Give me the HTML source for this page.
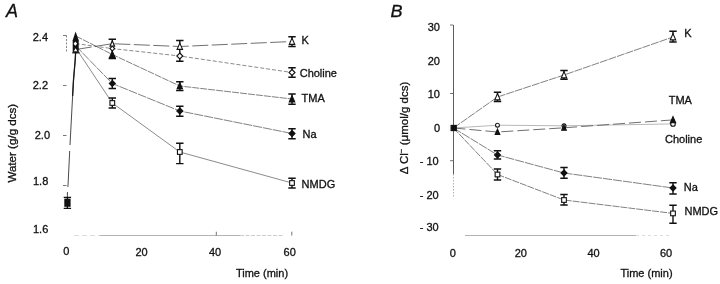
<!DOCTYPE html>
<html><head><meta charset="utf-8"><title>Figure</title>
<style>
html,body{margin:0;padding:0;background:#fff}
svg{display:block;font-family:"Liberation Sans",sans-serif;fill:#111}
text{stroke:#111;stroke-width:0.3px}
</style></head><body>
<svg width="720" height="284" viewBox="0 0 720 284">
<rect width="720" height="284" fill="#fff"/>
<path d="M66.5 35.5L66.5 52" fill="none" stroke="#666" stroke-width="0.8" stroke-dasharray="2 1.5"/>
<path d="M100 235.5L240 235.5" fill="none" stroke="#b4b4b4" stroke-width="1"/>
<path d="M240 235.5L283 235.5" fill="none" stroke="#ccc" stroke-width="1" stroke-dasharray="4 1.5"/>
<path d="M74 235.5L100 235.5" fill="none" stroke="#ddd" stroke-width="1" stroke-dasharray="5 3"/>
<path d="M63 35.5L66.5 35.5" fill="none" stroke="#666" stroke-width="0.9"/>
<path d="M63 85.5L66.5 85.5" fill="none" stroke="#666" stroke-width="0.9"/>
<path d="M63 135.5L66.5 135.5" fill="none" stroke="#666" stroke-width="0.9"/>
<path d="M63 185.5L66.5 185.5" fill="none" stroke="#666" stroke-width="0.9"/>
<path d="M216.3 231.7L216.3 235.5" fill="none" stroke="#666" stroke-width="0.9"/>
<path d="M291.8 231.7L291.8 235.5" fill="none" stroke="#666" stroke-width="0.9"/>
<text x="48" y="40.6" text-anchor="end" font-size="11">2.4</text>
<text x="48" y="89" text-anchor="end" font-size="11">2.2</text>
<text x="50" y="138.6" text-anchor="end" font-size="11">2.0</text>
<text x="48.3" y="184.6" text-anchor="end" font-size="11">1.8</text>
<text x="48.3" y="232.8" text-anchor="end" font-size="11">1.6</text>
<text x="66.2" y="255.2" text-anchor="middle" font-size="11">0</text>
<text x="141.5" y="256.3" text-anchor="middle" font-size="11">20</text>
<text x="215" y="256.3" text-anchor="middle" font-size="11">40</text>
<text x="289.7" y="256.3" text-anchor="middle" font-size="11">60</text>
<text x="262" y="277" text-anchor="middle" font-size="11">Time (min)</text>
<text x="0" y="0" text-anchor="middle" font-size="11.6" transform="translate(16.3 143.2) rotate(-90)">Water (g/g dcs)</text>
<text x="6" y="17" text-anchor="start" font-size="18" font-style="italic">A</text>
<path d="M76 46L75.2 60L73.5 80L72.4 100L70.7 132L70 145M69.7 151L68.2 182L67.9 187M67.4 192V197" fill="none" stroke="#1a1a1a" stroke-width="0.8"/>
<path d="M76 46L75.2 60L73.5 80L72.6 96" fill="none" stroke="#1a1a1a" stroke-width="1.3"/>
<path d="M75.8 49.5L112.3 43.7L179.8 46.5L292 41.5" fill="none" stroke="#4a4a4a" stroke-width="0.8" stroke-dasharray="16 3.5"/>
<path d="M75.8 43.6L112.3 48.6L179.8 56L292 72.5" fill="none" stroke="#4a4a4a" stroke-width="0.65" stroke-dasharray="4 2"/>
<path d="M75.8 36L112.3 54.5L179.8 86L292 99" fill="none" stroke="#3c3c3c" stroke-width="0.65" stroke-dasharray="7 1"/>
<path d="M75.8 46L112.3 83.5L179.8 111L292 133.5" fill="none" stroke="#3c3c3c" stroke-width="0.65" stroke-dasharray="9 1"/>
<path d="M75.8 48L112.3 103L179.8 152L292 183" fill="none" stroke="#3c3c3c" stroke-width="0.6"/>
<path d="M63.7 197.4H71.10000000000001M63.7 208.3H71.10000000000001M67.4 197.4V208.3" stroke="#111" stroke-width="1.3" fill="none"/>
<rect x="64.3" y="198.6" width="6.3" height="8.2" fill="#111"/>
<path d="M108.6 39.2H116.0M108.6 58.5H116.0M112.3 39.2V58.5" stroke="#111" stroke-width="1.4" fill="none"/>
<path d="M108.6 78.5H116.0M108.6 88.5H116.0M112.3 78.5V88.5" stroke="#111" stroke-width="1.4" fill="none"/>
<path d="M108.6 98H116.0M108.6 108H116.0M112.3 98V108" stroke="#111" stroke-width="1.4" fill="none"/>
<path d="M176.10000000000002 40.5H183.5M176.10000000000002 61.3H183.5M179.8 40.5V61.3" stroke="#111" stroke-width="1.4" fill="none"/>
<path d="M176.10000000000002 81.7H183.5M176.10000000000002 90.6H183.5M179.8 81.7V90.6" stroke="#111" stroke-width="1.4" fill="none"/>
<path d="M176.10000000000002 106.3H183.5M176.10000000000002 116.2H183.5M179.8 106.3V116.2" stroke="#111" stroke-width="1.4" fill="none"/>
<path d="M176.10000000000002 143.3H183.5M176.10000000000002 163.6H183.5M179.8 143.3V163.6" stroke="#111" stroke-width="1.4" fill="none"/>
<path d="M288.3 36.7H295.7M288.3 46.5H295.7M292 36.7V46.5" stroke="#111" stroke-width="1.4" fill="none"/>
<path d="M288.3 67.7H295.7M288.3 77.3H295.7M292 67.7V77.3" stroke="#111" stroke-width="1.4" fill="none"/>
<path d="M288.3 94H295.7M288.3 104.3H295.7M292 94V104.3" stroke="#111" stroke-width="1.4" fill="none"/>
<path d="M288.3 128.7H295.7M288.3 138.8H295.7M292 128.7V138.8" stroke="#111" stroke-width="1.4" fill="none"/>
<path d="M288.3 178.3H295.7M288.3 188H295.7M292 178.3V188" stroke="#111" stroke-width="1.4" fill="none"/>
<path d="M75.6 31.6L78.7 40.2V52.4H72.7V40.2Z" fill="#111"/>
<path d="M75.3 41.6L77.2 43.7L75.3 45.8L73.6 43.7Z" fill="#fff"/>
<path d="M75.6 48.2L77.4 51.3H73.8Z" fill="#fff"/>
<path d="M72.3 52.8H79.5" stroke="#111" stroke-width="1.3"/>
<rect x="109.95" y="100.65" width="4.7" height="4.7" fill="#fff" stroke="#111" stroke-width="1.1"/>
<path d="M112.3 80.5L115.3 83.5L112.3 86.5L109.3 83.5Z" fill="#111" stroke="#111" stroke-width="1.1"/>
<path d="M112.3 51.1L115.02 57.39H109.58Z" fill="#111" stroke="#111" stroke-width="1.1"/>
<path d="M112.3 46.2L114.7 48.6L112.3 51.0L109.89999999999999 48.6Z" fill="#fff" stroke="#111" stroke-width="1.1"/>
<path d="M112.3 40.800000000000004L114.61999999999999 46.165000000000006H109.98Z" fill="#fff" stroke="#111" stroke-width="1.1"/>
<rect x="177.45000000000002" y="149.65" width="4.7" height="4.7" fill="#fff" stroke="#111" stroke-width="1.1"/>
<path d="M179.8 108.0L182.8 111L179.8 114.0L176.8 111Z" fill="#111" stroke="#111" stroke-width="1.1"/>
<path d="M179.8 82.6L182.52 88.89H177.08Z" fill="#111" stroke="#111" stroke-width="1.1"/>
<path d="M179.8 53.0L182.8 56L179.8 59.0L176.8 56Z" fill="#fff" stroke="#111" stroke-width="1.1"/>
<path d="M179.8 43.1L182.52 49.39H177.08Z" fill="#fff" stroke="#111" stroke-width="1.1"/>
<rect x="289.65" y="180.65" width="4.7" height="4.7" fill="#fff" stroke="#111" stroke-width="1.1"/>
<path d="M292 130.5L295.0 133.5L292 136.5L289.0 133.5Z" fill="#111" stroke="#111" stroke-width="1.1"/>
<path d="M292 95.6L294.72 101.89H289.28Z" fill="#111" stroke="#111" stroke-width="1.1"/>
<path d="M292 69.5L295.0 72.5L292 75.5L289.0 72.5Z" fill="#fff" stroke="#111" stroke-width="1.1"/>
<path d="M292 38.1L294.72 44.39H289.28Z" fill="#fff" stroke="#111" stroke-width="1.1"/>
<text x="301.6" y="44" text-anchor="start" font-size="11">K</text>
<text x="299.7" y="76.5" text-anchor="start" font-size="11">Choline</text>
<text x="301.6" y="102" text-anchor="start" font-size="11">TMA</text>
<text x="302.6" y="137.8" text-anchor="start" font-size="11">Na</text>
<text x="301.6" y="187.7" text-anchor="start" font-size="11">NMDG</text>
<path d="M453.5 25L453.5 174" fill="none" stroke="#4a4a4a" stroke-width="0.9"/>
<path d="M453.5 174L453.5 198" fill="none" stroke="#999" stroke-width="0.8" stroke-dasharray="1.5 1.5"/>
<path d="M465 235.5L636 235.5" fill="none" stroke="#b4b4b4" stroke-width="1"/>
<path d="M636 235.5L672 235.5" fill="none" stroke="#ddd" stroke-width="1" stroke-dasharray="3 3"/>
<path d="M450 25L453.3 25" fill="none" stroke="#666" stroke-width="0.9"/>
<path d="M450 93.5L453.3 93.5" fill="none" stroke="#666" stroke-width="0.9"/>
<path d="M450 160.7L453.3 160.7" fill="none" stroke="#666" stroke-width="0.9"/>
<text x="440" y="30.5" text-anchor="end" font-size="11">30</text>
<text x="440" y="64.5" text-anchor="end" font-size="11">20</text>
<text x="440" y="97.5" text-anchor="end" font-size="11">10</text>
<text x="440" y="131.5" text-anchor="end" font-size="11">0</text>
<text x="438.7" y="164.5" text-anchor="end" font-size="11">- 10</text>
<text x="438.7" y="198.7" text-anchor="end" font-size="11">- 20</text>
<text x="438.7" y="231" text-anchor="end" font-size="11">- 30</text>
<text x="452.7" y="256.5" text-anchor="middle" font-size="11">0</text>
<text x="520.8" y="256.5" text-anchor="middle" font-size="11">20</text>
<text x="593.6" y="256.5" text-anchor="middle" font-size="11">40</text>
<text x="666" y="256.5" text-anchor="middle" font-size="11">60</text>
<text x="646.5" y="276.5" text-anchor="middle" font-size="11">Time (min)</text>
<text x="0" y="0" text-anchor="middle" font-size="11.5" transform="translate(407.6 128) rotate(-90)">Δ Cl<tspan font-size="8" dy="-4">−</tspan><tspan dy="4"> (μmol/g dcs)</tspan></text>
<text x="0" y="0" text-anchor="start" font-size="16.4" font-style="italic" transform="translate(390.6 16.5) scale(1.1 1)">B</text>
<path d="M453.5 128L497.5 97L564 75L673 37" fill="none" stroke="#3c3c3c" stroke-width="0.65" stroke-dasharray="8 1"/>
<path d="M453.5 128L497.5 125.2L564 125.8L673 123.9" fill="none" stroke="#888" stroke-width="0.6"/>
<path d="M453.5 128L497.5 132L564 127.8L673 119.9" fill="none" stroke="#4a4a4a" stroke-width="0.8" stroke-dasharray="12 4"/>
<path d="M453.5 128L497.5 155L564 173L673 188" fill="none" stroke="#3c3c3c" stroke-width="0.65" stroke-dasharray="9 1"/>
<path d="M453.5 128L497.5 174.5L564 200L673 213.4" fill="none" stroke="#3c3c3c" stroke-width="0.65" stroke-dasharray="7 1"/>
<path d="M493.8 92.2H501.2M493.8 101.5H501.2M497.5 92.2V101.5" stroke="#111" stroke-width="1.4" fill="none"/>
<path d="M493.8 150.7H501.2M493.8 159H501.2M497.5 150.7V159" stroke="#111" stroke-width="1.4" fill="none"/>
<path d="M493.8 169H501.2M493.8 180H501.2M497.5 169V180" stroke="#111" stroke-width="1.4" fill="none"/>
<path d="M560.3 70.5H567.7M560.3 79.2H567.7M564 70.5V79.2" stroke="#111" stroke-width="1.4" fill="none"/>
<path d="M560.3 167.5H567.7M560.3 178.2H567.7M564 167.5V178.2" stroke="#111" stroke-width="1.4" fill="none"/>
<path d="M560.3 194.5H567.7M560.3 205H567.7M564 194.5V205" stroke="#111" stroke-width="1.4" fill="none"/>
<path d="M669.3 31.2H676.7M669.3 42H676.7M673 31.2V42" stroke="#111" stroke-width="1.4" fill="none"/>
<path d="M669.3 182.7H676.7M669.3 194H676.7M673 182.7V194" stroke="#111" stroke-width="1.4" fill="none"/>
<path d="M669.3 205.2H676.7M669.3 223.2H676.7M673 205.2V223.2" stroke="#111" stroke-width="1.4" fill="none"/>
<rect x="495.15" y="172.15" width="4.7" height="4.7" fill="#fff" stroke="#111" stroke-width="1.1"/>
<path d="M497.5 152.0L500.5 155L497.5 158.0L494.5 155Z" fill="#111" stroke="#111" stroke-width="1.1"/>
<path d="M497.5 93.6L500.22 99.89H494.78Z" fill="#fff" stroke="#111" stroke-width="1.1"/>
<circle cx="497.5" cy="125.2" r="1.95" fill="#fff" stroke="#111" stroke-width="1.1"/>
<path d="M497.5 129.1L499.82 134.465H495.18Z" fill="#111" stroke="#111" stroke-width="1.1"/>
<rect x="561.65" y="197.65" width="4.7" height="4.7" fill="#fff" stroke="#111" stroke-width="1.1"/>
<path d="M564 170.0L567.0 173L564 176.0L561.0 173Z" fill="#111" stroke="#111" stroke-width="1.1"/>
<path d="M564 71.6L566.72 77.89H561.28Z" fill="#fff" stroke="#111" stroke-width="1.1"/>
<circle cx="564" cy="125.8" r="1.95" fill="#fff" stroke="#111" stroke-width="1.1"/>
<path d="M564 124.89999999999999L566.32 130.265H561.68Z" fill="#111" stroke="#111" stroke-width="1.1"/>
<rect x="670.65" y="211.05" width="4.7" height="4.7" fill="#fff" stroke="#111" stroke-width="1.1"/>
<path d="M673 185.0L676.0 188L673 191.0L670.0 188Z" fill="#111" stroke="#111" stroke-width="1.1"/>
<path d="M673 33.6L675.72 39.89H670.28Z" fill="#fff" stroke="#111" stroke-width="1.1"/>
<circle cx="673" cy="123.9" r="2.3" fill="#fff" stroke="#111" stroke-width="1.1"/>
<path d="M673 116.60000000000001L675.64 122.70500000000001H670.36Z" fill="#111" stroke="#111" stroke-width="1.1"/>
<rect x="451.09999999999997" y="125.4" width="5.2" height="5.2" fill="#111" stroke="#111" stroke-width="1.1"/>
<text x="684.3" y="37" text-anchor="start" font-size="11">K</text>
<text x="668.7" y="104" text-anchor="start" font-size="11">TMA</text>
<text x="665" y="142.6" text-anchor="start" font-size="11">Choline</text>
<text x="683.7" y="190.7" text-anchor="start" font-size="11">Na</text>
<text x="684.5" y="214.7" text-anchor="start" font-size="11">NMDG</text>
</svg>
</body></html>
